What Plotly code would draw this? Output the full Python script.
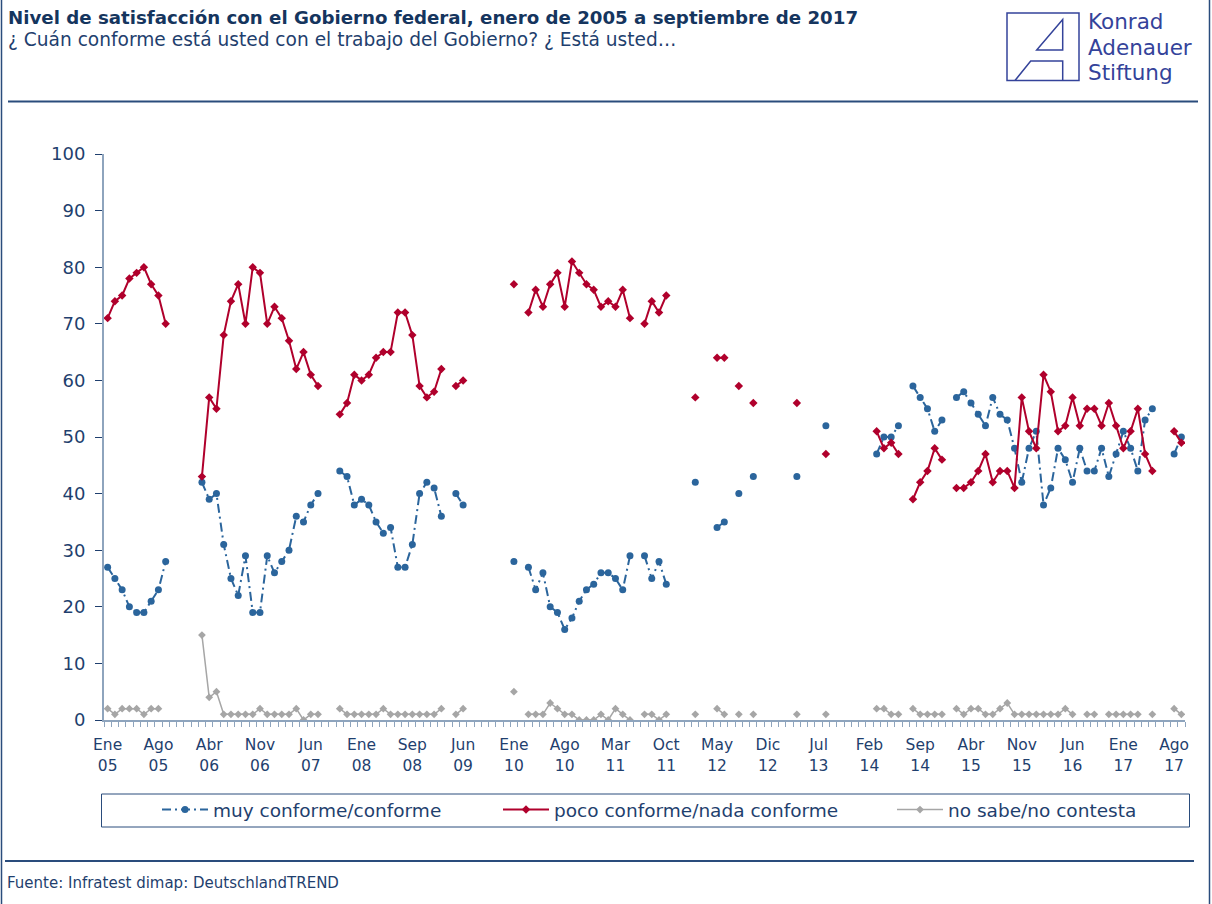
import plotly.graph_objects as go

N = None
# x categories: one per survey (149 categories), labels every 7 categories
tick_labels = ["Ene<br>05", "Ago<br>05", "Abr<br>06", "Nov<br>06", "Jun<br>07", "Ene<br>08",
               "Sep<br>08", "Jun<br>09", "Ene<br>10", "Ago<br>10", "Mar<br>11", "Oct<br>11",
               "May<br>12", "Dic<br>12", "Jul<br>13", "Feb<br>14", "Sep<br>14", "Abr<br>15",
               "Nov<br>15", "Jun<br>16", "Ene<br>17", "Ago<br>17"]

muy_conforme = [27, 25, 23, 20, 19, 19, 21, 23, 28, N, N, N, N,
                42, 39, 40, 31, 25, 22, 29, 19, 19, 29, 26, 28, 30, 36, 35, 38, 40, N, N,
                44, 43, 38, 39, 38, 35, 33, 34, 27, 27, 31, 40, 42, 41, 36, N, 40, 38,
                N, N, N, N, N, N,
                28, N, 27, 23, 26, 20, 19, 16, 18, 21, 23, 24, 26, 26, 25, 23, 29, N, 29, 25, 28, 24,
                N, N, N, 42, N, N, 34, 35, N, 40, N, 43, N, N, N, N, N, 43, N, N, N, 52,
                N, N, N, N, N, N,
                47, 50, 50, 52, N, 59, 57, 55, 51, 53, N,
                57, 58, 56, 54, 52, 57, 54, 53, 48, 42, 48, 51, 38, 41, 48, 46,
                42, 48, 44, 44, 48, 43, 47, 51, 48, 44, 53, 55, N, N, 47, 50]

poco_conforme = [71, 74, 75, 78, 79, 80, 77, 75, 70, N, N, N, N,
                 43, 57, 55, 68, 74, 77, 70, 80, 79, 70, 73, 71, 67, 62, 65, 61, 59, N, N,
                 54, 56, 61, 60, 61, 64, 65, 65, 72, 72, 68, 59, 57, 58, 62, N, 59, 60,
                 N, N, N, N, N, N,
                 77, N, 72, 76, 73, 77, 79, 73, 81, 79, 77, 76, 73, 74, 73, 76, 71, N, 70, 74, 72, 75,
                 N, N, N, 57, N, N, 64, 64, N, 59, N, 56, N, N, N, N, N, 56, N, N, N, 47,
                 N, N, N, N, N, N,
                 51, 48, 49, 47, N, 39, 42, 44, 48, 46, N,
                 41, 41, 42, 44, 47, 42, 44, 44, 41, 57, 51, 48, 61, 58, 51, 52,
                 57, 52, 55, 55, 52, 56, 52, 48, 51, 55, 47, 44, N, N, 51, 49]

no_sabe = [2, 1, 2, 2, 2, 1, 2, 2, N, N, N, N, N,
           15, 4, 5, 1, 1, 1, 1, 1, 2, 1, 1, 1, 1, 2, 0, 1, 1, N, N,
           2, 1, 1, 1, 1, 1, 2, 1, 1, 1, 1, 1, 1, 1, 2, N, 1, 2,
           N, N, N, N, N, N,
           5, N, 1, 1, 1, 3, 2, 1, 1, 0, 0, 0, 1, 0, 2, 1, 0, N, 1, 1, 0, 1,
           N, N, N, 1, N, N, 2, 1, N, 1, N, 1, N, N, N, N, N, 1, N, N, N, 1,
           N, N, N, N, N, N,
           2, 2, 1, 1, N, 2, 1, 1, 1, 1, N,
           2, 1, 2, 2, 1, 1, 2, 3, 1, 1, 1, 1, 1, 1, 1, 2,
           1, N, 1, 1, N, 1, 1, 1, 1, 1, N, 1, N, N, 2, 1]

series_names = ["muy conforme/conforme", "poco conforme/nada conforme", "no sabe/no contesta"]

x = list(range(len(muy_conforme)))
tickvals = [i * 7 for i in range(len(tick_labels))]

NAVY = "#1F3F6E"
TITLE = "#15355E"
BLUE = "#2B659C"
RED = "#B0002C"
GRAY = "#A6A6A6"
AXIS = "#8EA4BD"
RULE = "#2A4C7C"
LOGO = "#34439A"
FONT = "DejaVu Sans"

W, H = 1212, 904
L, R, T, B = 104, 27, 154, 184
PW, PH = W - L - R, H - T - B


def px(X):
    return (X - L) / PW


def py(Y):
    return (H - B - Y) / PH


fig = go.Figure()
fig.add_trace(go.Scatter(
    x=x, y=muy_conforme, name=series_names[0], mode="lines+markers",
    line=dict(color=BLUE, width=2, dash="9px,4px,2px,4px"),
    marker=dict(symbol="circle", size=7, color=BLUE), legend="legend"))
fig.add_trace(go.Scatter(
    x=x, y=poco_conforme, name=series_names[1], mode="lines+markers",
    line=dict(color=RED, width=2),
    marker=dict(symbol="diamond", size=6.5, color=RED), legend="legend2"))
fig.add_trace(go.Scatter(
    x=x, y=no_sabe, name=series_names[2], mode="lines+markers",
    line=dict(color=GRAY, width=1.5),
    marker=dict(symbol="diamond", size=6, color=GRAY), legend="legend3"))

leg_common = dict(orientation="h", yanchor="middle", xanchor="left", y=py(810), itemwidth=46,
                  bgcolor="rgba(0,0,0,0)", font=dict(family=FONT, size=18.5, color=NAVY))
shapes = [
    dict(type="line", xref="paper", yref="paper", x0=px(8), x1=px(1198), y0=py(101.5), y1=py(101.5),
         line=dict(color=RULE, width=2)),
    dict(type="line", xref="paper", yref="paper", x0=px(5), x1=px(1194), y0=py(861), y1=py(861),
         line=dict(color=RULE, width=2)),
    dict(type="line", xref="paper", yref="paper", x0=px(1.5), x1=px(1.5), y0=py(0), y1=py(904),
         line=dict(color=RULE, width=1.5)),
    dict(type="line", xref="paper", yref="paper", x0=px(1209.5), x1=px(1209.5), y0=py(0), y1=py(904),
         line=dict(color=RULE, width=1.5)),
    dict(type="rect", xref="paper", yref="paper", x0=px(101.5), x1=px(1189.5), y0=py(794), y1=py(827),
         line=dict(color=RULE, width=1)),
    # logo
    dict(type="rect", xref="paper", yref="paper", x0=px(1007), x1=px(1079), y0=py(13), y1=py(80.5),
         line=dict(color=LOGO, width=1.5)),
    dict(type="path", xref="paper", yref="paper",
         path=f"M{px(1062.7)},{py(19.5)} L{px(1036.7)},{py(50)} L{px(1062.7)},{py(50)} Z",
         line=dict(color=LOGO, width=1.5)),
    dict(type="path", xref="paper", yref="paper",
         path=f"M{px(1015)},{py(80.5)} L{px(1030.7)},{py(61)} L{px(1062.7)},{py(61)} L{px(1062.7)},{py(80.5)}",
         line=dict(color=LOGO, width=1.5)),
]

annotations = [
    dict(xref="paper", yref="paper", x=px(6), y=py(17), xanchor="left", yanchor="middle", showarrow=False,
         text="<b>Nivel de satisfacción con el Gobierno federal, enero de 2005 a septiembre de 2017</b>",
         font=dict(family=FONT, size=18.2, color=TITLE)),
    dict(xref="paper", yref="paper", x=px(6), y=py(39), xanchor="left", yanchor="middle", showarrow=False,
         text="¿ Cuán conforme está usted con el trabajo del Gobierno? ¿ Está usted…",
         font=dict(family=FONT, size=18.6, color=NAVY)),
    dict(xref="paper", yref="paper", x=px(5), y=py(883), xanchor="left", yanchor="middle", showarrow=False,
         text="Fuente: Infratest dimap: DeutschlandTREND",
         font=dict(family=FONT, size=15, color=NAVY)),
]
for txt, yy in [("Konrad", 21.5), ("Adenauer", 47), ("Stiftung", 72.5)]:
    annotations.append(dict(xref="paper", yref="paper", x=px(1087), y=py(yy), xanchor="left",
                            yanchor="middle", showarrow=False, text=txt, borderpad=0,
                            font=dict(family="DejaVu Sans", size=21.5, color=LOGO)))

fig.update_layout(
    width=W, height=H, margin=dict(l=L, r=R, t=T, b=B),
    plot_bgcolor="white", paper_bgcolor="white",
    font=dict(family=FONT, color=NAVY),
    showlegend=True,
    legend=dict(x=px(157), **leg_common),
    legend2=dict(x=px(498), **leg_common),
    legend3=dict(x=px(892), **leg_common),
    shapes=shapes, annotations=annotations,
    xaxis=dict(range=[-0.5, len(x) - 0.5], tickmode="array", tickvals=tickvals, ticktext=tick_labels,
               showgrid=False, zeroline=False, showline=True, linecolor=AXIS, linewidth=1.5,
               ticks="", ticklabelstandoff=10,
               tickfont=dict(family=FONT, size=15.5, color=NAVY),
               minor=dict(ticks="outside", tickmode="linear", tick0=-0.5, dtick=1, ticklen=5,
                          tickcolor=AXIS, tickwidth=1, showgrid=False)),
    yaxis=dict(range=[0, 100], dtick=10, showgrid=False, zeroline=False, showline=True,
               linecolor=AXIS, linewidth=2, ticks="outside", ticklen=7, tickcolor=NAVY, tickwidth=1,
               ticklabelstandoff=6, tickfont=dict(family=FONT, size=18, color=NAVY)),
)

fig.write_html("out.html", config={"displayModeBar": False},
               post_script="document.body.style.margin='0px';document.body.style.overflow='hidden';")
